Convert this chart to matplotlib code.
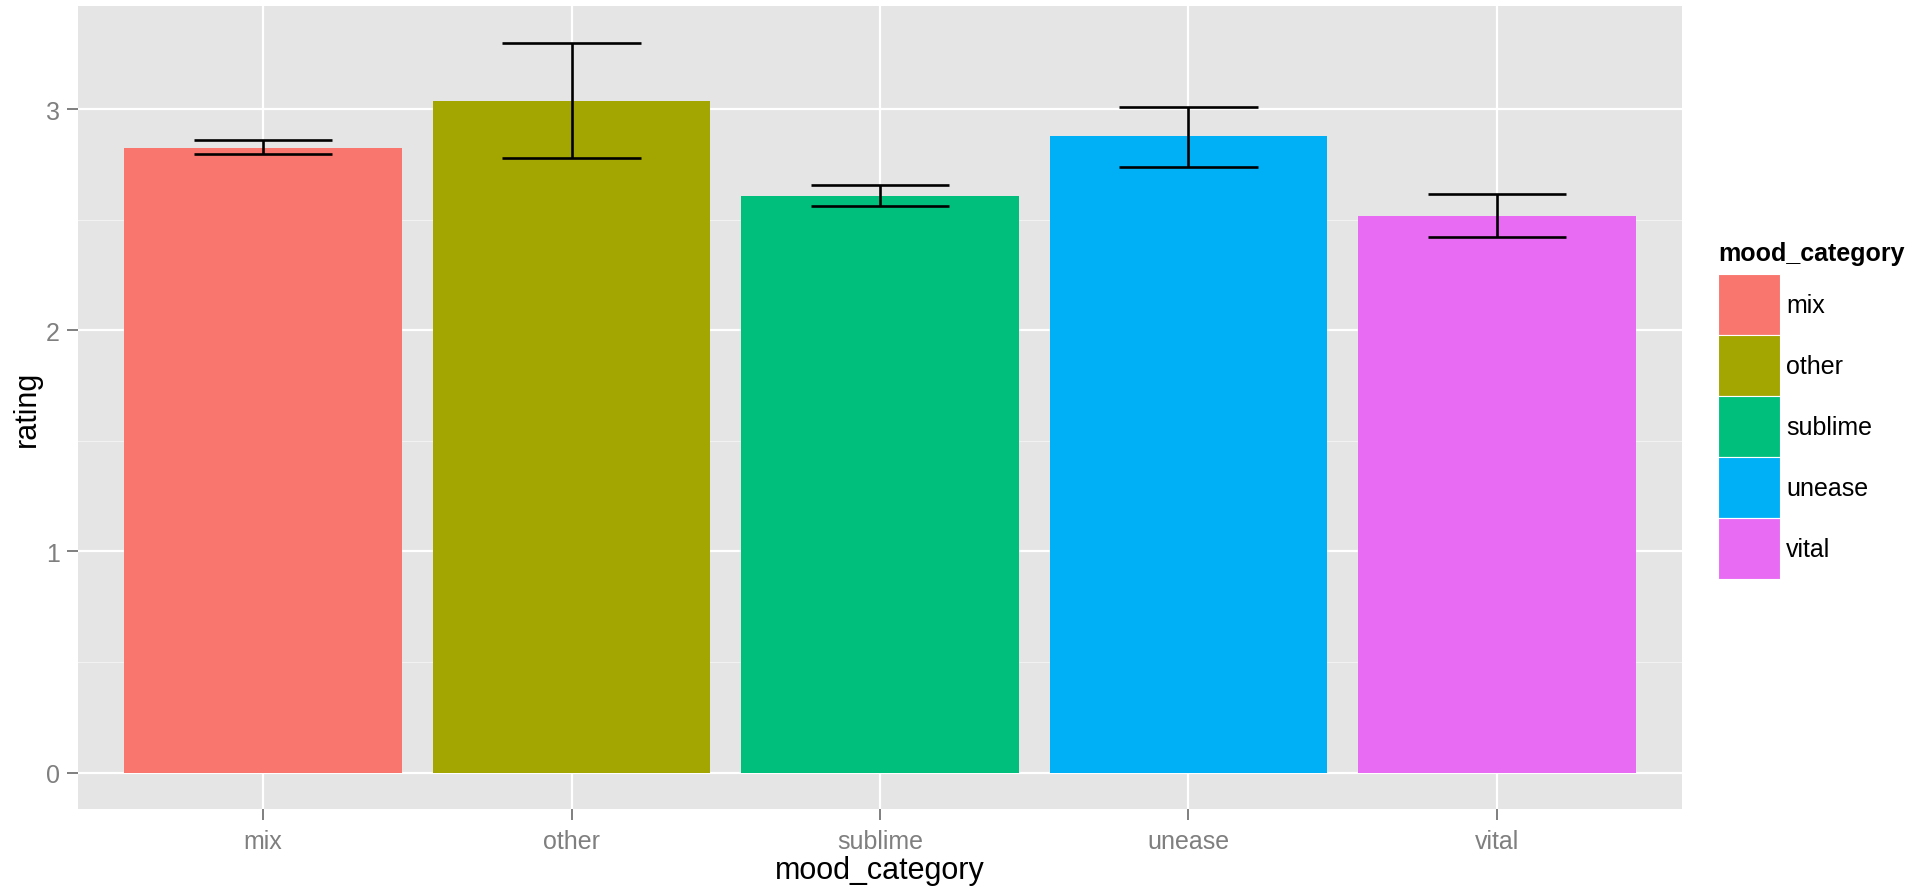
import matplotlib
matplotlib.use("Agg")
import matplotlib.pyplot as plt
from matplotlib.patches import Patch
import numpy as np

# ---- data ----
categories = ["mix", "other", "sublime", "unease", "vital"]
rating_mean = [2.827, 3.038, 2.609, 2.877, 2.518]
rating_lower = [2.797, 2.779, 2.563, 2.737, 2.422]
rating_upper = [2.862, 3.302, 2.657, 3.012, 2.616]
colors = ["#F8766D", "#A3A500", "#00BF7D", "#00B0F6", "#E76BF3"]
y_ticks = [0, 1, 2, 3]

plt.rcParams["font.family"] = ["Liberation Sans", "DejaVu Sans"]

W, H, DPI = 1930, 887, 100
fig = plt.figure(figsize=(W / DPI, H / DPI), dpi=DPI)
fig.patch.set_facecolor("white")

# panel in pixel coords
pl, pr, pt, pb = 78, 1682, 7, 810
ax = fig.add_axes([pl / W, (H - pb) / H, (pr - pl) / W, (pb - pt) / H])
ax.set_facecolor("#E5E5E5")
for s in ax.spines.values():
    s.set_visible(False)

x = np.arange(len(categories))
ax.bar(x, rating_mean, width=0.9, color=colors, edgecolor="none", zorder=3)

cap = 0.225
ax.vlines(x, rating_lower, rating_upper, color="black", lw=1.9, zorder=4)
ax.hlines(rating_upper, x - cap, x + cap, color="black", lw=1.9, zorder=4)
ax.hlines(rating_lower, x - cap, x + cap, color="black", lw=1.9, zorder=4)

ymax = max(rating_upper)
ax.set_ylim(-0.05 * ymax, ymax * 1.05)
ax.set_xlim(-0.6, len(categories) - 0.4)

ax.set_xticks(x)
ax.set_xticklabels(categories)
ax.set_yticks(y_ticks)
ax.set_yticklabels([str(v) for v in y_ticks])
ax.set_yticks([0.5, 1.5, 2.5], minor=True)

ax.grid(which="major", color="white", lw=1.6, zorder=1)
ax.grid(which="minor", axis="y", color="#F2F2F2", lw=0.8, zorder=0)
ax.set_axisbelow(True)

ax.tick_params(axis="both", which="major", length=8, width=1.4, color="#7F7F7F",
               labelcolor="#7F7F7F", labelsize=18)
ax.tick_params(axis="x", pad=6.3)
ax.tick_params(axis="y", pad=5)
ax.tick_params(which="minor", length=0)

ax.set_xlabel("mood_category", fontsize=22, color="black", labelpad=1.3)
ax.set_ylabel("rating", fontsize=22, color="black", labelpad=3)

handles = [Patch(facecolor=c, edgecolor="white", lw=0.8) for c in colors]
leg = fig.legend(handles, categories, title="mood_category",
                 loc="upper left", bbox_to_anchor=(1718 / W, 1 - 242 / H),
                 frameon=False, fontsize=18,
                 title_fontproperties={"weight": "bold", "size": 18},
                 handlelength=2.48, handleheight=3.377, labelspacing=0.0,
                 handletextpad=0.25, borderpad=0, borderaxespad=0,
                 alignment="left")
leg._legend_box.sep = 6.8  # gap between title and keys (points)

fig.savefig("out.png", dpi=DPI, facecolor="white")
